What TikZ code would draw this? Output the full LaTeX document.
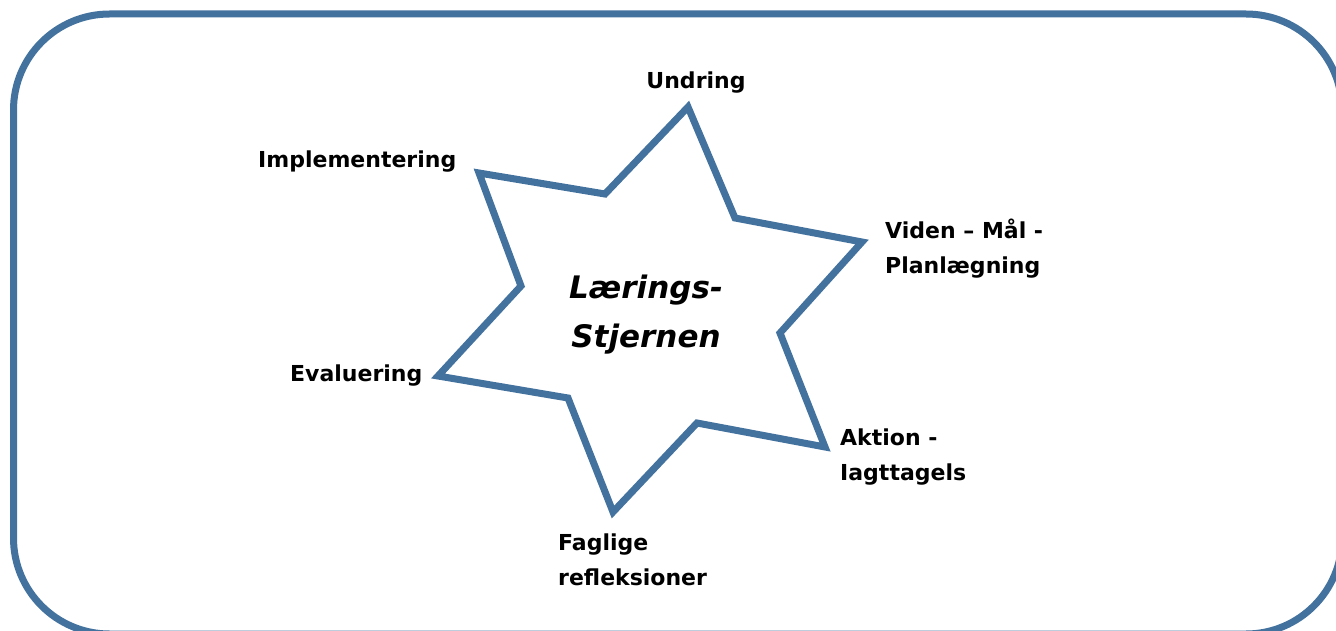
\documentclass[tikz,border=0pt]{standalone}
\usepackage{fontspec}
\setmainfont{DejaVu Sans}
\definecolor{starblue}{RGB}{67,114,158}
\begin{document}
\begin{tikzpicture}[x=1pt,y=-1pt,
  frame/.style={draw=starblue,line width=7pt,rounded corners=96pt},
  starline/.style={draw=starblue,line width=7pt,line join=miter},
  lbl/.style={inner sep=0pt,font=\fontsize{22}{35}\selectfont\bfseries,align=left},
  ctr/.style={inner sep=0pt,font=\fontsize{31}{49}\selectfont\bfseries\itshape,align=center}]
\useasboundingbox (0,0) rectangle (1336,631);
\begin{scope}
\clip (0,0) rectangle (1336,631);
\draw[frame] (13.5,14) rectangle (1342,634);
\end{scope}
% star
\coordinate (t) at (688,107);
\coordinate (i1) at (735,218);
\coordinate (r1) at (862,242);
\coordinate (i2) at (780,333);
\coordinate (r2) at (825,447);
\coordinate (i3) at (697,423);
\coordinate (b) at (613,512);
\coordinate (i4) at (568,398);
\coordinate (l) at (438,376);
\coordinate (i5) at (521,286);
\coordinate (ul) at (479,173);
\coordinate (i6) at (605,194);
\draw[starline] (t) -- (i1) -- (r1) -- (i2) -- (r2) -- (i3) -- (b) -- (i4) -- (l) -- (i5) -- (ul) -- (i6) -- cycle;
% labels
\node[lbl,anchor=base] (und) at (696,89) {Undring};
\node[lbl,anchor=base west] (imp) at (258,168) {Implementering};
\node[lbl,anchor=base west] (vid) at (885,273) {Viden – Mål -\\Planlægning};
\begin{scope}
\clip (800,400) rectangle (1100,484);
\node[lbl,anchor=base west] (akt) at (840,480) {Aktion -\\Iagttagels};
\end{scope}
\begin{scope}
\clip (500,510) rectangle (800,589);
\node[lbl,anchor=base west] (fag) at (558,585) {Faglige\\refleksioner};
\end{scope}
\node[lbl,anchor=base west] (eva) at (290,381) {Evaluering};
\node[ctr,anchor=base] (ctrtxt) at (646,347) {Lærings-\\Stjernen};
\end{tikzpicture}
\end{document}
